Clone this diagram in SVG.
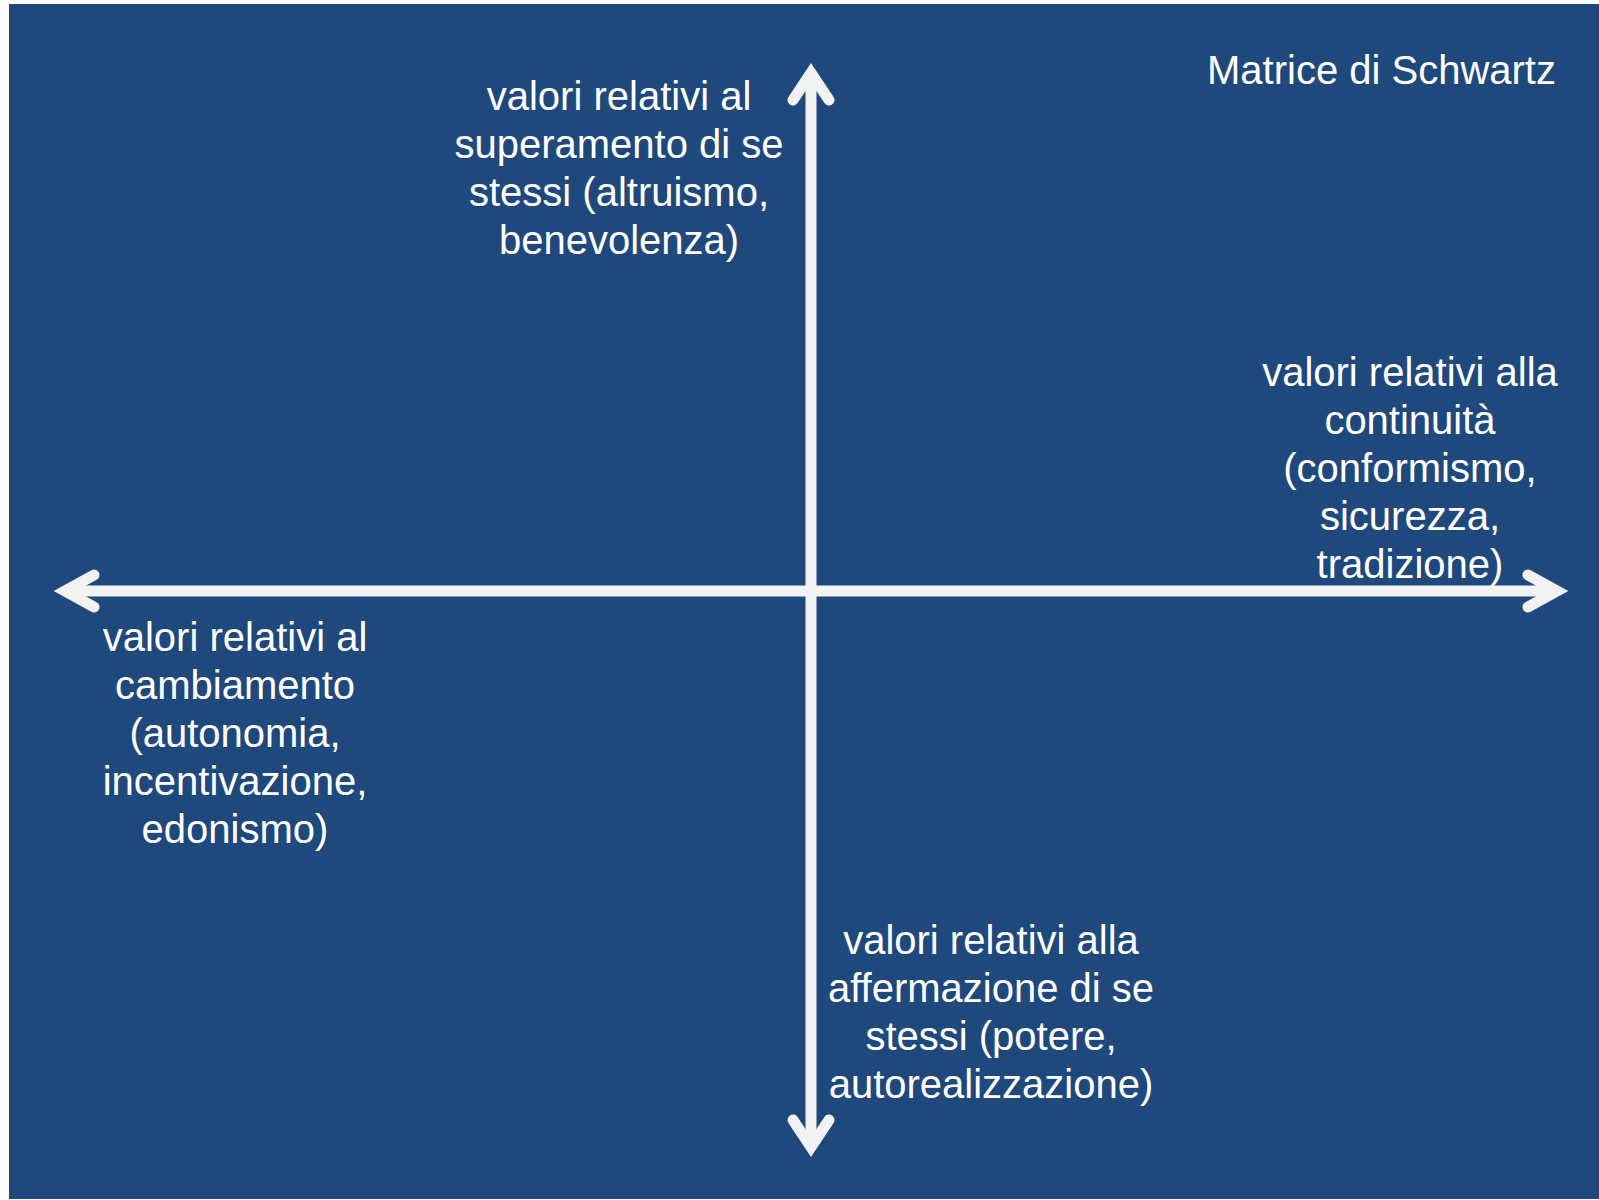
<svg xmlns="http://www.w3.org/2000/svg" width="1599" height="1200" viewBox="0 0 1599 1200">
  <style>
    .bg { fill: #1f497d; }
    .axis { stroke: #f2f2f2; stroke-width: 11; fill: none; }
    .head { stroke: #f2f2f2; stroke-width: 11; fill: none; stroke-linecap: round; stroke-linejoin: miter; stroke-miterlimit: 10; }
    .label { font-family: "Liberation Sans", Arial, sans-serif; font-size: 40px; fill: #ffffff; text-anchor: middle; }
    .title { font-family: "Liberation Sans", Arial, sans-serif; font-size: 40px; fill: #ffffff; }
  </style>
  <rect x="0" y="0" width="1599" height="1200" fill="#ffffff"/>
  <rect class="bg" x="9" y="4" width="1590" height="1195"/>

  <!-- axes -->
  <g id="connectors">
    <line class="axis" x1="811" y1="78" x2="811" y2="1145"/>
    <polyline class="head" points="793,100 811,73 829,100"/>
    <polyline class="head" points="793,1120 811,1147 829,1120"/>
    <line class="axis" x1="66" y1="591" x2="1555" y2="591"/>
    <polyline class="head" points="94,575 65,591 94,607"/>
    <polyline class="head" points="1528,575 1557,591 1528,607"/>
  </g>

  <g id="title">
    <text class="title" x="1207" y="84">Matrice di Schwartz</text>
  </g>

  <g id="node-top">
    <text class="label" x="619" y="110">valori relativi al</text>
    <text class="label" x="619" y="158">superamento di se</text>
    <text class="label" x="619" y="206">stessi (altruismo,</text>
    <text class="label" x="619" y="254">benevolenza)</text>
  </g>

  <g id="node-right">
    <text class="label" x="1410" y="386">valori relativi alla</text>
    <text class="label" x="1410" y="434">continuità</text>
    <text class="label" x="1410" y="482">(conformismo,</text>
    <text class="label" x="1410" y="530">sicurezza,</text>
    <text class="label" x="1410" y="578">tradizione)</text>
  </g>

  <g id="node-left">
    <text class="label" x="235" y="651">valori relativi al</text>
    <text class="label" x="235" y="699">cambiamento</text>
    <text class="label" x="235" y="747">(autonomia,</text>
    <text class="label" x="235" y="795">incentivazione,</text>
    <text class="label" x="235" y="843">edonismo)</text>
  </g>

  <g id="node-bottom">
    <text class="label" x="991" y="954">valori relativi alla</text>
    <text class="label" x="991" y="1002">affermazione di se</text>
    <text class="label" x="991" y="1050">stessi (potere,</text>
    <text class="label" x="991" y="1098">autorealizzazione)</text>
  </g>
</svg>
